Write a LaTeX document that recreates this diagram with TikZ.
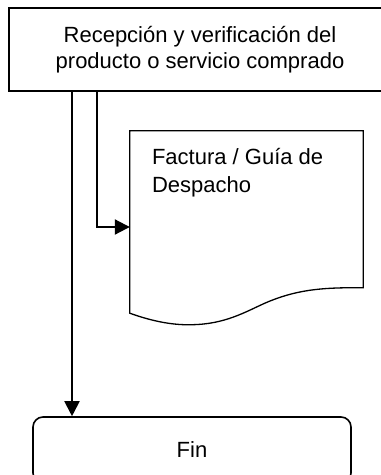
\documentclass[tikz,border=0pt]{standalone}
\usepackage{fontspec}
\setmainfont{Liberation Sans}
\usetikzlibrary{arrows.meta,calc}
\tikzset{
  box/.style={draw, line width=1.6pt, inner sep=0pt, align=center,
    font=\fontsize{22}{25.5}\selectfont},
  arr/.style={line width=2pt, -{Triangle[length=15pt,width=15pt]}},
  docshape/.style={line width=1.3pt, line join=miter},
  lbl/.style={inner sep=0pt, align=left, font=\fontsize{22}{28}\selectfont}
}
\begin{document}
\begin{tikzpicture}[x=1pt,y=-1pt]
\useasboundingbox (0,0) rectangle (381,475);
\clip (0,0) rectangle (381,475);
\fill[white] (0,0) rectangle (381,475);
\node[box, minimum width=382pt, minimum height=83pt] (top) at (200,49.5)
  {Recepción y verificación del\\producto o servicio comprado};
\node[inner sep=0pt, minimum width=233pt, minimum height=182pt] (doc) at (246.5,222) {};
\draw[docshape] ($(doc.north east)+(0,157)$) -- (doc.north east) -- (doc.north west) -- (doc.south west)
  .. controls ($(doc.south west)+(25,9)$) and ($(doc.south west)+(45,12)$) .. ($(doc.south west)+(62,11.5)$)
  .. controls ($(doc.south west)+(95,11)$) and ($(doc.south west)+(115,-1)$) .. ($(doc.south west)+(135,-10)$)
  .. controls ($(doc.south west)+(165,-23)$) and ($(doc.south west)+(190,-26)$) .. ($(doc.north east)+(0,157)$) -- cycle;
\node[lbl, anchor=base west] (doctext) at ($(doc.north west)+(22,62)$) {Factura / Guía de\\Despacho};
\node[box, rounded corners=10pt, minimum width=318pt, minimum height=66pt] (fin) at (192,450) {Fin};
\coordinate (c1) at (72,0);
\coordinate (c2) at (97,0);
\coordinate (c3) at (0,227);
\draw[arr] (c1 |- top.south) -- (c1 |- fin.north);
\draw[arr] (c2 |- top.south) |- (c3 -| doc.west);
\end{tikzpicture}
\end{document}
